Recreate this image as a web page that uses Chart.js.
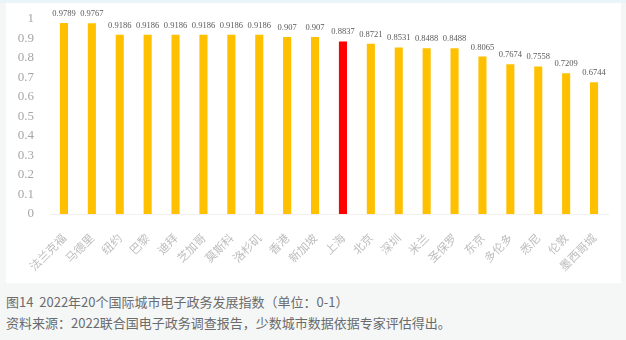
<!DOCTYPE html>
<html>
<head>
<meta charset="utf-8">
<script src="https://cdn.jsdelivr.net/npm/chart.js@4"></script>
<style>
  html, body { margin: 0; padding: 0; }
  body { width: 626px; height: 340px; background: #f5f7f7; position: relative; overflow: hidden; }
  .top-strip { position: absolute; left: 0; top: 0; width: 626px; height: 3px; background: #eaf5f9; }
  .panel { position: absolute; left: 6px; top: 3px; width: 615px; height: 280px; background: #fff; }
  .caption { position: absolute; left: 6px; font-family: "Noto Sans CJK SC", "Noto Sans", sans-serif; font-size: 13px; color: #6b6b6b; white-space: pre; }
</style>
</head>
<body>
<div class="top-strip"></div>
<div class="panel"><canvas id="chart" width="615" height="280"></canvas></div>
<div class="caption" style="top:292px;">图14  2022年20个国际城市电子政务发展指数（单位：0-1）</div>
<div class="caption" style="top:313px;">资料来源：2022联合国电子政务调查报告，少数城市数据依据专家评估得出。</div>
<script>
const cities = ["法兰克福", "马德里", "纽约", "巴黎", "迪拜", "芝加哥", "莫斯科", "洛杉矶", "香港", "新加坡",
  "上海", "北京", "深圳", "米兰", "圣保罗", "东京", "多伦多", "悉尼", "伦敦", "墨西哥城"];
const indexValues = [0.9789, 0.9767, 0.9186, 0.9186, 0.9186, 0.9186, 0.9186, 0.9186, 0.907, 0.907,
  0.8837, 0.8721, 0.8531, 0.8488, 0.8488, 0.8065, 0.7674, 0.7558, 0.7209, 0.6744];
const highlightCity = "上海";

// value labels above each bar
const valueLabels = {
  id: "valueLabels",
  afterDatasetsDraw(chart) {
    const ctx = chart.ctx;
    const meta = chart.getDatasetMeta(0);
    ctx.save();
    ctx.font = "8.5px 'Liberation Serif'";
    ctx.fillStyle = "#595959";
    ctx.textAlign = "center";
    ctx.textBaseline = "bottom";
    meta.data.forEach((bar, i) => {
      ctx.fillText(String(indexValues[i]), bar.x, bar.y - 5);
    });
    ctx.restore();
  },
};

new Chart(document.getElementById("chart"), {
  type: "bar",
  data: {
    labels: cities,
    datasets: [
      {
        data: indexValues,
        backgroundColor: cities.map((c) => (c === highlightCity ? "#ff0000" : "#ffc000")),
        barPercentage: 0.58,
        categoryPercentage: 0.5,
      },
    ],
  },
  options: {
    responsive: false,
    animation: false,
    layout: { padding: { top: 15, right: 13, left: 0, bottom: 0 } },
    plugins: { legend: { display: false }, tooltip: { enabled: false } },
    scales: {
      y: {
        min: 0,
        max: 1,
        ticks: {
          stepSize: 0.1,
          padding: 8,
          color: "#a6a6a6",
          font: { family: "Liberation Serif", size: 13 },
          callback: (v) => String(Math.round(v * 10) / 10),
        },
        grid: { display: false },
        border: { display: false },
        afterFit(axis) { axis.width = 44; },
      },
      x: {
        ticks: {
          minRotation: 45,
          maxRotation: 45,
          autoSkip: false,
          padding: 9,
          color: "#bdbdbd",
          font: { family: "Noto Sans CJK SC", size: 11.5 },
        },
        grid: { display: false },
        border: { display: true, color: "#f0f0f0", width: 1 },
        afterFit(axis) { axis.height = 69; },
      },
    },
  },
  plugins: [valueLabels],
});
</script>
</body>
</html>
